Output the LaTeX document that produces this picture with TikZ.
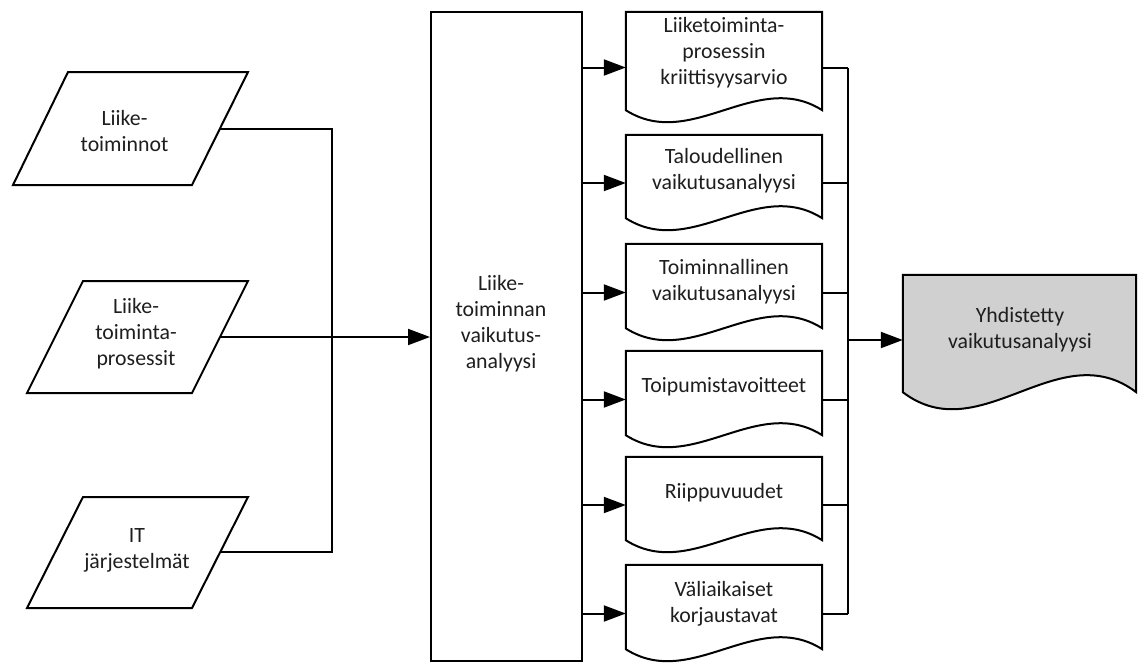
\documentclass[tikz,border=0pt]{standalone}
\usepackage{fontspec}
\setmainfont{Carlito}
\usetikzlibrary{arrows.meta,calc}

\definecolor{docgray}{RGB}{208,208,208}
\definecolor{ink}{RGB}{30,30,30}

\tikzset{
  ln/.style={line width=2pt, draw=black, line join=miter},
  arr/.style={ln, -{Triangle[length=22pt, width=16pt]}},
  lbl/.style={align=center, font=\fontsize{21.8}{26}\selectfont, text=ink, inner sep=0pt},
  docbox/.style={rectangle, draw=none, inner sep=0pt, minimum width=196pt},
  bigbox/.style={rectangle, ln, inner sep=0pt},
}

% document symbol: straight top and sides, wavy bottom edge
% #1 node name, #2 control offset of the wave, #3 fill colour
\newcommand\docoutline[3]{%
  \draw[ln, fill=#3] (#1.south west) -- (#1.north west) -- (#1.north east) -- (#1.south east)
    .. controls ($(#1.south east)!0.3333!(#1.south west)+(0,-#2)$)
       and ($(#1.south east)!0.6667!(#1.south west)+(0,#2)$) .. (#1.south west) -- cycle;}

\begin{document}
\begin{tikzpicture}[x=1pt, y=-1pt]
\useasboundingbox (0,0) rectangle (1138,662);

% ---- input parallelograms ----
\draw[ln] (68,72) -- (248,72) -- (192,185) -- (13,185) -- cycle;
\draw[ln] (83,281) -- (248,281) -- (192,393) -- (27,393) -- cycle;
\draw[ln] (83,497) -- (248,497) -- (192,608) -- (27,608) -- cycle;
\coordinate (p1) at (220,128.5);
\coordinate (p2) at (220,337);
\coordinate (p3) at (220,551.5);
\node[lbl] (tp1) at (124.5,131.5) {Liike-\\toiminnot};
\node[lbl] (tp2) at (136,334) {Liike-\\toiminta-\\prosessit};
\node[lbl] (tp3) at (137,550.5) {IT\\järjestelmät};

% ---- central analysis box ----
\node[bigbox, minimum width=151pt, minimum height=649pt] (biz) at (506.5,336.5) {};
\node[lbl] (tbiz) at (501,323.5) {Liike-\\toiminnan\\vaikutus-\\analyysi};

% ---- result documents ----
\node[docbox, minimum height=98pt] (d1) at (724,61) {};
\node[docbox, minimum height=83pt] (d2) at (724,176.5) {};
\node[docbox, minimum height=84pt] (d3) at (724,286) {};
\node[docbox, minimum height=84pt] (d4) at (724,393) {};
\node[docbox, minimum height=83pt] (d5) at (724,498.5) {};
\node[docbox, minimum height=84pt] (d6) at (724,607) {};
\foreach \d in {d1,d2,d3,d4,d5,d6}{\docoutline{\d}{41.5}{white}}

\node[lbl] (t1) at (724,52.5) {Liiketoiminta-\\prosessin\\kriittisyysarvio};
\node[lbl] (t2) at (724,171) {Taloudellinen\\vaikutusanalyysi};
\node[lbl] (t3) at (724,281.5) {Toiminnallinen\\vaikutusanalyysi};
\node[lbl] (t4) at (724,387) {Toipumistavoitteet};
\node[lbl] (t5) at (724,493) {Riippuvuudet};
\node[lbl] (t6) at (724,604) {Väliaikaiset\\korjaustavat};

% ---- combined result ----
\node[docbox, minimum width=233pt, minimum height=117pt] (gout) at (1019.5,333.5) {};
\docoutline{gout}{59}{docgray}
\node[lbl] (tg) at (1020,330) {Yhdistetty\\vaikutusanalyysi};

% ---- connectors ----
\coordinate (lbus) at (332,0);
\coordinate (rbus) at (848,0);
\draw[ln] (p1) -- (p1 -| lbus) -- (p3 -| lbus) -- (p3);
\draw[arr] (p2) -- (biz.west |- p2);

\foreach \d in {d1,d2,d3,d4,d5,d6}{
  \coordinate (\d-in) at ($(\d.west)+(0,6.5)$);
  \coordinate (\d-out) at ($(\d.east)+(0,6.5)$);
  \draw[arr] (biz.east |- \d-in) -- (\d-in);
  \draw[ln] (\d-out) -- (\d-out -| rbus);
}
\draw[ln] (d1-out -| rbus) -- (d6-out -| rbus);
\coordinate (gin) at ($(gout.west)+(0,6.5)$);
\draw[arr] (gin -| rbus) -- (gin);
\end{tikzpicture}
\end{document}
